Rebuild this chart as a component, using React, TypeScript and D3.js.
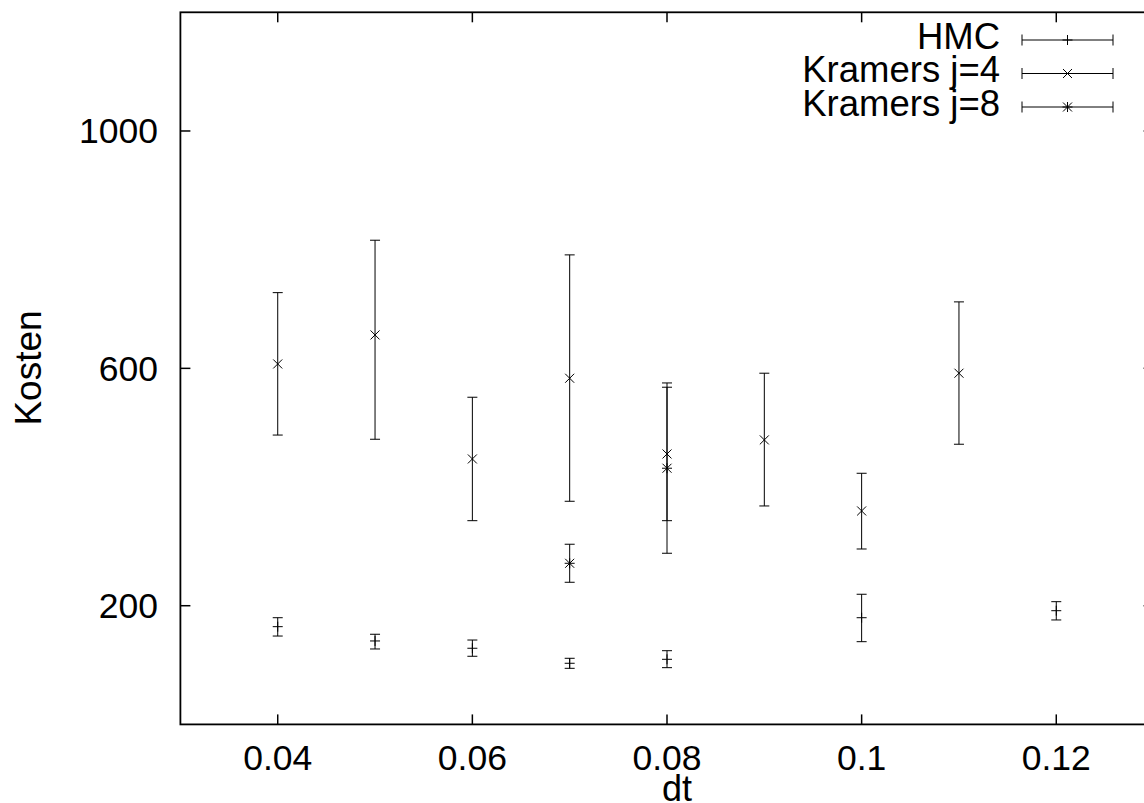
import React from "react";
import * as d3 from "d3";

const hmcDt = [0.04, 0.05, 0.06, 0.07, 0.08, 0.1, 0.12];
const hmcCost = [164.7, 140.6, 128.3, 103, 109.7, 179.8, 191.6];
const hmcLow = [148.9, 127.1, 114.8, 94.5, 95.6, 139.4, 176];
const hmcHigh = [179.8, 151.9, 142.2, 111.4, 124.2, 219.3, 206.8];

const k4Dt = [0.04, 0.05, 0.06, 0.07, 0.08, 0.09, 0.1, 0.11];
const k4Cost = [607.4, 656.3, 447.3, 583.3, 455.7, 479.4, 359.7, 591.8];
const k4Low = [487.6, 480.5, 343.3, 376.0, 343.3, 368.1, 295.6, 472.1];
const k4High = [727.6, 815.9, 551.3, 791.2, 568.2, 591.8, 423.2, 712];

const k8Dt = [0.07, 0.08];
const k8Cost = [271.5, 431.7];
const k8Low = [239.5, 288.4];
const k8High = [303.6, 575.4];

const xTicks = [0.04, 0.06, 0.08, 0.1, 0.12];
const xTickLabels = ["0.04", "0.06", "0.08", "0.1", "0.12"];
const yTicks = [200, 600, 1000];
const yTickLabels = ["200", "600", "1000"];

const seriesNames = ["HMC", "Kramers j=4", "Kramers j=8"];
const seriesMarkers = ["plus", "cross", "star"];

const FONT = "'Liberation Sans', Arial, Helvetica, sans-serif";

function Marker({ kind, cx, cy }: { kind: string; cx: number; cy: number }) {
  const s = 5;
  const d = 4.5;
  const plus = `M${cx - s},${cy}H${cx + s}M${cx},${cy - s}V${cy + s}`;
  const cross = `M${cx - d},${cy - d}L${cx + d},${cy + d}M${cx - d},${cy + d}L${cx + d},${cy - d}`;
  let p = plus;
  if (kind === "cross") p = cross;
  if (kind === "star") p = plus + cross;
  return <path d={p} stroke="#000" strokeWidth={1} fill="none" />;
}

export default function App() {
  const x = d3.scaleLinear().domain([0.03, 0.13]).range([180.4, 1153.6]);
  const y = d3.scaleLinear().domain([0, 1200]).range([724.4, 12.3]);
  const [x0, x1] = x.range();
  const [yb, yt] = y.range();

  const series = [
    { dt: hmcDt, c: hmcCost, lo: hmcLow, hi: hmcHigh },
    { dt: k4Dt, c: k4Cost, lo: k4Low, hi: k4High },
    { dt: k8Dt, c: k8Cost, lo: k8Low, hi: k8High },
  ];

  const cap = 5;

  return (
    <svg
      width={1144}
      height={803}
      style={{ position: "absolute", left: 0, top: 0, display: "block", background: "#fff" }}
      fontFamily={FONT}
    >
      <rect x={0} y={0} width={1144} height={803} fill="#fff" />
      {xTicks.map((t, i) => (
        <g key={"xt" + i}>
          <line x1={x(t)} x2={x(t)} y1={yb} y2={yb - 10} stroke="#000" strokeWidth={1.5} />
          <line x1={x(t)} x2={x(t)} y1={yt} y2={yt + 10} stroke="#000" strokeWidth={1.5} />
          <text x={x(t)} y={770} fontSize={35.5} textAnchor="middle" fill="#000">
            {xTickLabels[i]}
          </text>
        </g>
      ))}
      {yTicks.map((t, i) => (
        <g key={"yt" + i}>
          <line x1={x0} x2={x0 + 10} y1={y(t)} y2={y(t)} stroke="#000" strokeWidth={1.5} />
          <line x1={x1} x2={x1 - 10} y1={y(t)} y2={y(t)} stroke="#000" strokeWidth={1.5} />
          <text x={158} y={y(t) + 12.5} fontSize={35.5} textAnchor="end" fill="#000">
            {yTickLabels[i]}
          </text>
        </g>
      ))}
      <rect x={x0} y={yt} width={x1 - x0} height={yb - yt} fill="none" stroke="#000" strokeWidth={1.8} />
      <text x={677} y={801} fontSize={36} textAnchor="middle" fill="#000">
        dt
      </text>
      <text transform="translate(41,368) rotate(-90)" fontSize={37} textAnchor="middle" fill="#000">
        Kosten
      </text>
      {series.map((s, si) => (
        <g key={"s" + si}>
          {s.dt.map((dt, i) => {
            const cx = x(dt);
            const yl = y(s.lo[i]);
            const yh = y(s.hi[i]);
            return (
              <g key={i}>
                <line x1={cx} x2={cx} y1={yl} y2={yh} stroke="#000" strokeWidth={1} />
                <line x1={cx - cap} x2={cx + cap} y1={yl} y2={yl} stroke="#000" strokeWidth={1} />
                <line x1={cx - cap} x2={cx + cap} y1={yh} y2={yh} stroke="#000" strokeWidth={1} />
                <Marker kind={seriesMarkers[si]} cx={cx} cy={y(s.c[i])} />
              </g>
            );
          })}
        </g>
      ))}
      {seriesNames.map((n, i) => {
        const ly = 40 + i * 33.5;
        return (
          <g key={"lg" + i}>
            <text x={1000} y={ly + 8.5} fontSize={36.5} textAnchor="end" fill="#000">
              {n}
            </text>
            <line x1={1022} x2={1113} y1={ly} y2={ly} stroke="#000" strokeWidth={1} />
            <line x1={1022} x2={1022} y1={ly - 5.5} y2={ly + 5.5} stroke="#000" strokeWidth={1} />
            <line x1={1113} x2={1113} y1={ly - 5.5} y2={ly + 5.5} stroke="#000" strokeWidth={1} />
            <Marker kind={seriesMarkers[i]} cx={1067.5} cy={ly} />
          </g>
        );
      })}
    </svg>
  );
}
